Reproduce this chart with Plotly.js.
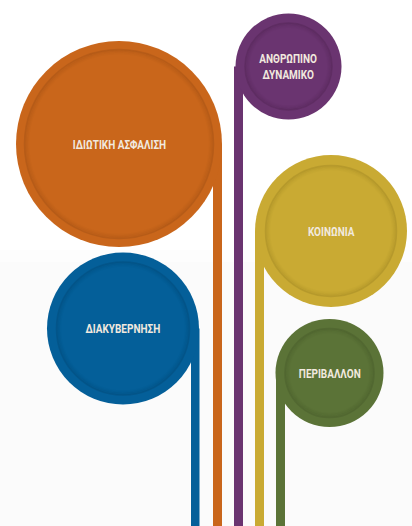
<!DOCTYPE html>
<html>
<head>
<meta charset="utf-8">
<script src="https://cdn.plot.ly/plotly-3.0.1.min.js"></script>
<style>
html,body{margin:0;padding:0;background:#ffffff;}
#chart{width:412px;height:526px;}
</style>
</head>
<body>
<div id="chart"></div>
<script>
// Categories (labels) and their colours
var labels = ["ΙΔΙΩΤΙΚΗ ΑΣΦΑΛΙΣΗ", "ΑΝΘΡΩΠΙΝΟ<br>ΔΥΝΑΜΙΚΟ", "ΚΟΙΝΩΝΙΑ", "ΔΙΑΚΥΒΕΡΝΗΣΗ", "ΠΕΡΙΒΑΛΛΟΝ"];
var colors = ["#c9661b", "#6a3470", "#c9aa33", "#045f99", "#5b7337"];
var shadeColors = ["#7a3a0e", "#3a1538", "#7a6614", "#023456", "#33431d"];

// Layout geometry (pixel positions of each bubble and stem)
var geom = [
  {cx:119,   cy:144,   r:103, rin:95, sx0:213, sx1:222},
  {cx:288.5, cy:66.5,  r:53,  rin:44, sx0:234, sx1:243},
  {cx:331,   cy:231,   r:76,  rin:66, sx0:255, sx1:264},
  {cx:123,   cy:328.5, r:76,  rin:67, sx0:191, sx1:199.5},
  {cx:329.5, cy:373,   r:54,  rin:45, sx0:276, sx1:285}
];
var H = 526, W = 412;

var shapes = [];
var annotations = [];
// very faint grey lower background
shapes.push({type:'rect', xref:'x', yref:'y', x0:0, x1:W, y0:250, y1:262,
  fillcolor:'#fdfdfd', line:{width:0}, layer:'below'});
shapes.push({type:'rect', xref:'x', yref:'y', x0:0, x1:W, y0:262, y1:H,
  fillcolor:'#fbfbfb', line:{width:0}, layer:'below'});
// stems
geom.forEach(function(g, i){
  shapes.push({type:'rect', xref:'x', yref:'y', x0:g.sx0, x1:g.sx1, y0:g.cy, y1:H,
    fillcolor:colors[i], line:{width:0}, layer:'above'});
});
geom.forEach(function(g, i){
  // outer disc
  shapes.push({type:'circle', xref:'x', yref:'y', x0:g.cx-g.r, x1:g.cx+g.r, y0:g.cy-g.r, y1:g.cy+g.r,
    fillcolor:colors[i], line:{width:0}, layer:'above'});
  // soft inner shadow rings
  var steps = [[0.5,1.5,0.22],[1.8,1.5,0.13],[3.1,1.5,0.08],[4.4,1.5,0.04]];
  steps.forEach(function(s){
    var rr = g.rin - s[0];
    shapes.push({type:'circle', xref:'x', yref:'y', x0:g.cx-rr, x1:g.cx+rr, y0:g.cy-rr, y1:g.cy+rr,
      fillcolor:'rgba(0,0,0,0)', line:{width:s[1], color:shadeColors[i]}, opacity:s[2], layer:'above'});
  });
  annotations.push({x:g.cx, y:g.cy, xref:'x', yref:'y', text:'<b>'+labels[i]+'</b>', showarrow:false,
    font:{family:'Roboto, "Liberation Sans Narrow", sans-serif', size:12.5, color:'#f1e9df'},
    align:'center', xanchor:'center', yanchor:'middle'});
});

var layout = {
  width:W, height:H,
  margin:{l:0, r:0, t:0, b:0},
  paper_bgcolor:'#ffffff', plot_bgcolor:'rgba(0,0,0,0)',
  xaxis:{range:[0, W], visible:false, fixedrange:true},
  yaxis:{range:[H, 0], visible:false, fixedrange:true},
  shapes:shapes, annotations:annotations, showlegend:false
};
Plotly.newPlot('chart', [{x:[], y:[], type:'scatter', mode:'markers', hoverinfo:'skip'}], layout, {staticPlot:true, displayModeBar:false}).then(function(){
  // condense the label glyphs horizontally (no condensed face installed)
  var texts = document.querySelectorAll('#chart .annotation-text');
  texts.forEach(function(t){
    var bb = t.getBBox();
    var cx = bb.x + bb.width/2;
    t.setAttribute('transform', 'translate(' + cx + ',0) scale(0.8,1) translate(' + (-cx) + ',0)');
  });
});
</script>
</body>
</html>
